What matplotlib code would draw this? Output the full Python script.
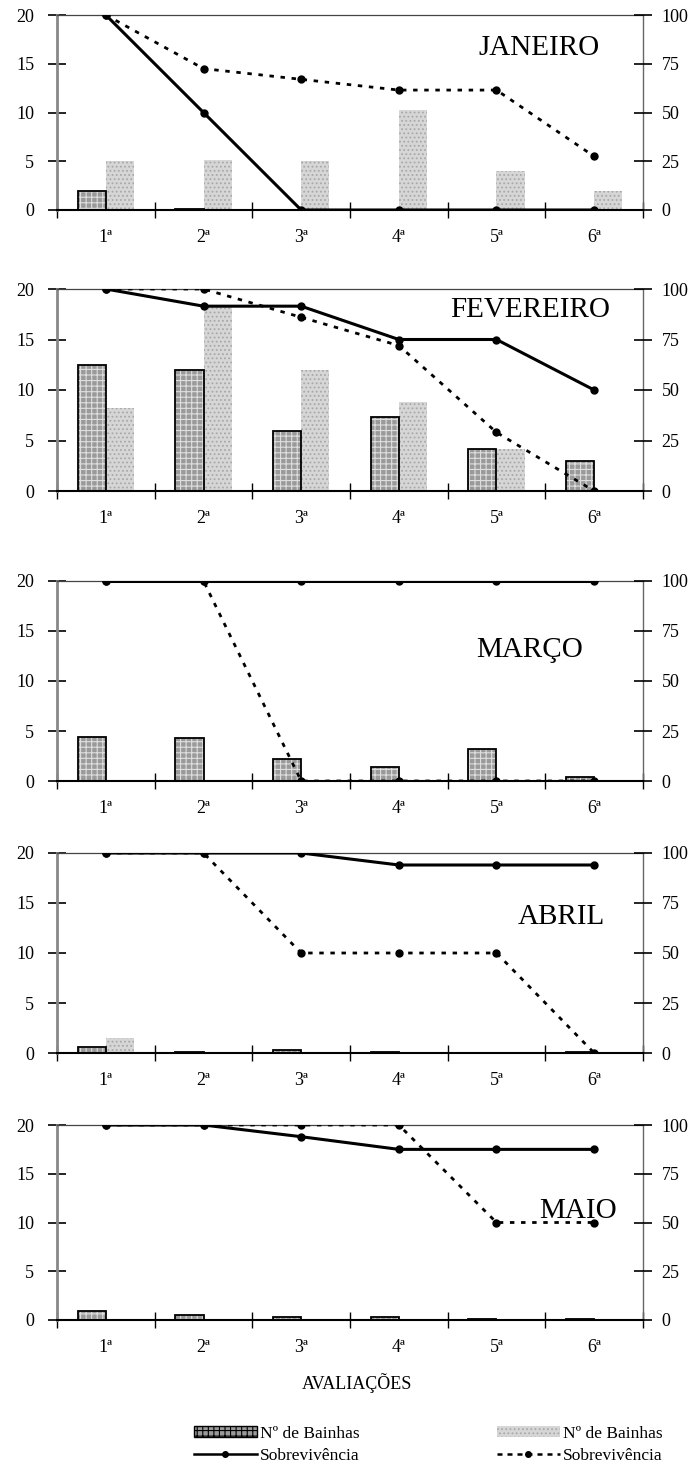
import matplotlib
matplotlib.use("Agg")
import matplotlib.pyplot as plt
from matplotlib.patches import Patch
from matplotlib.lines import Line2D
import numpy as np

plt.rcParams['font.family'] = ['Liberation Serif', 'DejaVu Serif']
plt.rcParams['hatch.linewidth'] = 0.8

categorias = ["1ª", "2ª", "3ª", "4ª", "5ª", "6ª"]
meses = ["JANEIRO", "FEVEREIRO", "MARÇO", "ABRIL", "MAIO"]

# Nº de Bainhas (série escura / série clara), eixo esquerdo 0-20
bainhas_a = {
    "JANEIRO":   [2.0, 0.1, 0.0, 0.0, 0.0, 0.0],
    "FEVEREIRO": [12.5, 12.0, 5.9, 7.3, 4.2, 3.0],
    "MARÇO":     [4.4, 4.3, 2.2, 1.4, 3.2, 0.4],
    "ABRIL":     [0.6, 0.1, 0.3, 0.15, 0.05, 0.1],
    "MAIO":      [0.9, 0.55, 0.3, 0.35, 0.15, 0.1],
}
bainhas_b = {
    "JANEIRO":   [5.0, 5.1, 5.0, 10.3, 4.0, 2.0],
    "FEVEREIRO": [8.2, 18.2, 12.0, 8.8, 4.2, 0.0],
    "MARÇO":     [0.1, 0.1, 0.0, 0.0, 0.0, 0.0],
    "ABRIL":     [1.5, 0.05, 0.05, 0.05, 0.05, 0.05],
    "MAIO":      [0.05, 0.05, 0.05, 0.05, 0.05, 0.05],
}
# Sobrevivência (%), eixo direito 0-100
sobrev_a = {
    "JANEIRO":   [100, 50, 0, 0, 0, 0],
    "FEVEREIRO": [100, 91.5, 91.5, 75, 75, 50],
    "MARÇO":     [100, 100, 100, 100, 100, 100],
    "ABRIL":     [100, 100, 100, 94, 94, 94],
    "MAIO":      [100, 100, 94, 87.5, 87.5, 87.5],
}
sobrev_b = {
    "JANEIRO":   [100, 72.5, 67, 61.5, 61.5, 27.5],
    "FEVEREIRO": [100, 100, 86, 72, 29, 0],
    "MARÇO":     [100, 100, 0, 0, 0, 0],
    "ABRIL":     [100, 100, 50, 50, 50, 0],
    "MAIO":      [100, 100, 100, 100, 50, 50],
}

# posição do título de cada mês (x em unidades de categoria, y no eixo esquerdo)
titulo_pos = {
    "JANEIRO": (5.44, 16.6),
    "FEVEREIRO": (5.35, 17.9),
    "MARÇO": (5.34, 13.1),
    "ABRIL": (5.66, 13.6),
    "MAIO": (5.83, 11.2),
}

# caixas dos painéis em pixels (topo = 20, base = 0)
W, H = 700, 1477
painel_px = [(15, 210), (289, 491), (581, 781), (853, 1053), (1125, 1320)]
x_left, x_right = 57, 643

fig = plt.figure(figsize=(W / 100, H / 100), dpi=100)

escuro = dict(color="#9a9a9a", edgecolor="#dedede", hatch="+++", linewidth=0)
claro = dict(color="#d6d6d6", edgecolor="#a8a8a8", hatch="....", linewidth=0)
bw = 0.29
x = np.arange(1, 7)

for mes, (ytop, ybot) in zip(meses, painel_px):
    ax = fig.add_axes([x_left / W, 1 - ybot / H, (x_right - x_left) / W, (ybot - ytop) / H])
    a = bainhas_a[mes]
    b = bainhas_b[mes]
    ax.bar(x, b, width=bw, align="edge", zorder=2, **claro)
    ax.bar(x - bw, a, width=bw, align="edge", zorder=3, **escuro)
    ax.bar(x - bw, a, width=bw, align="edge", zorder=3, fill=False,
           edgecolor="black", linewidth=1.3)
    ax.set_xlim(0.5, 6.5)
    ax.set_ylim(0, 20)
    ax.set_yticks([0, 5, 10, 15, 20])
    ax.set_xticks(x)
    ax.set_xticklabels(categorias)
    ax.set_xticks(np.arange(0.5, 7.0, 1.0), minor=True)
    ax.tick_params(axis="x", which="major", length=0, pad=14, labelsize=13)
    ax.tick_params(axis="x", which="minor", direction="inout", length=11, width=1)
    ax.tick_params(axis="y", direction="inout", length=13, width=1.2, labelsize=13, pad=10)
    ax.spines["left"].set_color("#888888")
    ax.spines["left"].set_linewidth(2.0)
    ax.spines["top"].set_color("#444444")
    ax.spines["top"].set_linewidth(0.9)
    ax.spines["right"].set_color("#666666")
    ax.spines["right"].set_linewidth(1.0)
    ax.spines["bottom"].set_color("black")
    ax.spines["bottom"].set_linewidth(1.5)
    ax.spines["bottom"].set_zorder(4)
    tx, ty = titulo_pos[mes]
    ax.text(tx, ty, mes, ha="center", va="center", fontsize=21)

    ax2 = ax.twinx()
    ax2.set_ylim(0, 100)
    ax2.set_yticks([0, 25, 50, 75, 100])
    ax2.tick_params(axis="y", direction="inout", length=13, width=1.2, labelsize=13, pad=7)
    for s in ax2.spines.values():
        s.set_visible(False)
    ax2.plot(x, sobrev_b[mes], color="black", lw=2.0, dashes=(1.6, 2.4),
             marker="o", ms=5, zorder=5)
    ax2.plot(x, sobrev_a[mes], color="black", lw=2.2, marker="o", ms=5, zorder=6)

fig.text(357 / W, 1 - 1383 / H, "AVALIAÇÕES", ha="center", va="center", fontsize=13)

h1 = [Patch(facecolor="#9a9a9a", edgecolor="black", hatch="+++", linewidth=1.0),
      Line2D([], [], color="black", lw=1.8, marker="o", ms=4)]
h2 = [Patch(facecolor="#d6d6d6", edgecolor="#a8a8a8", hatch="....", linewidth=0),
      Line2D([], [], color="black", lw=1.8, dashes=(2, 2), marker="o", ms=4)]
leg_kw = dict(frameon=False, fontsize=12.5, handlelength=3.6, handleheight=0.6,
              handletextpad=0.2, labelspacing=0.35, borderpad=0, borderaxespad=0)
fig.legend(h1, ["Nº de Bainhas", "Sobrevivência"], loc="upper left",
           bbox_to_anchor=(194 / W, 1 - 1426 / H), **leg_kw)
fig.legend(h2, ["Nº de Bainhas", "Sobrevivência"], loc="upper left",
           bbox_to_anchor=(497 / W, 1 - 1426 / H), **leg_kw)

fig.savefig("out.png", dpi=100)
